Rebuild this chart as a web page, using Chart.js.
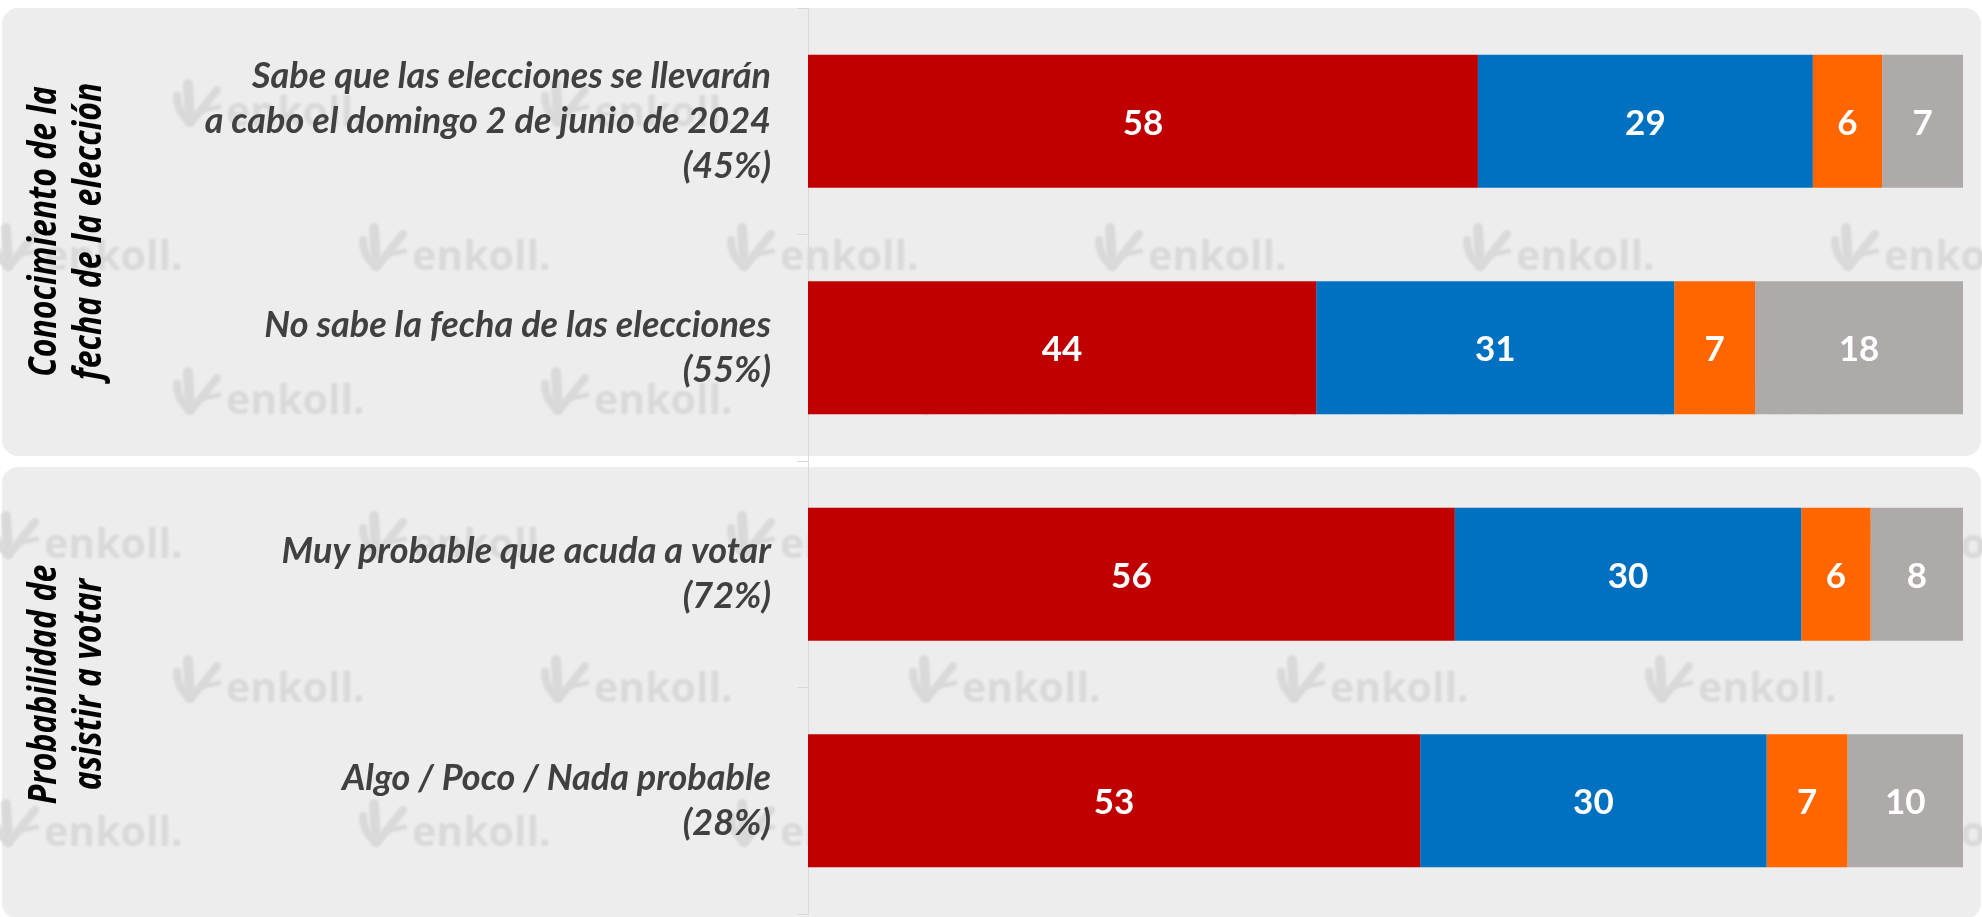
<!DOCTYPE html>
<html>
<head>
<meta charset="utf-8">
<script src="https://cdn.jsdelivr.net/npm/chart.js@4/dist/chart.umd.min.js"></script>
<style>
  html, body { margin: 0; padding: 0; background: #fff; }
  #wrap { width: 1982px; height: 917px; }
</style>
</head>
<body>
<div id="wrap"><canvas id="myChart_bar" width="1982" height="917"></canvas></div>
<script>
// categories (one array entry per line of the label)
var categories = [
  ['Sabe que las elecciones se llevarán', 'a cabo el domingo 2 de junio de 2024', '(45%)'],
  ['No sabe la fecha de las elecciones', '(55%)'],
  ['Muy probable que acuda a votar', '(72%)'],
  ['Algo / Poco / Nada probable', '(28%)']
];

// group labels shown rotated on the left, each covers two categories
var groups = [
  ['Conocimiento de la', 'fecha de la elección'],
  ['Probabilidad de', 'asistir a votar']
];

// series values (%)
var redValues = [58, 44, 56, 53];
var blueValues = [29, 31, 30, 30];
var orangeValues = [6, 7, 6, 7];
var grayValues = [7, 18, 8, 10];

var seriesColors = ['#c00000', '#0070c0', '#ff6600', '#aeaaaa'];

// panels + watermark behind everything
var backgroundPlugin = {
  id: 'panels',
  beforeDraw: function(chart) {
    var ctx = chart.ctx;
    var y = chart.scales.y;
    var step = y.getPixelForValue(1) - y.getPixelForValue(0);
    ctx.save();
    for (var g = 0; g < groups.length; g++) {
      var top = y.getPixelForValue(g * 2) - step / 2;
      var bottom = y.getPixelForValue(g * 2 + 1) + step / 2;
      if (g == 0) { bottom -= 5; } else { top += 6; bottom += 5; }
      ctx.fillStyle = '#ededed';
      ctx.beginPath();
      ctx.roundRect(2, top, 1979, bottom - top, 16);
      ctx.fill();
    }
    // watermark "enkoll."
    ctx.filter = 'blur(0.8px)';
    ctx.fillStyle = '#d9d9d9';
    ctx.strokeStyle = '#d9d9d9';
    ctx.lineCap = 'round';
    ctx.font = 'bold 41px "Open Sans"';
    ctx.textBaseline = 'alphabetic';
    ctx.textAlign = 'left';
    for (var r = 0; r < 6; r++) {
      var by = 126 + r * 144;
      var startX = (r % 2 == 0) ? 226 : 44;
      for (var k = -1; k < 7; k++) {
        var tx = startX + k * 368;
        ctx.fillText('enkoll.', tx, by);
        var lx = tx - 53;
        ctx.lineWidth = 10;
        ctx.beginPath();
        ctx.moveTo(lx + 15, by - 42);
        ctx.lineTo(lx + 17, by - 4);
        ctx.stroke();
        ctx.lineWidth = 8;
        ctx.beginPath();
        ctx.moveTo(lx + 4, by - 30);
        ctx.quadraticCurveTo(lx + 4, by - 14, lx + 17, by - 4);
        ctx.stroke();
        ctx.beginPath();
        ctx.moveTo(lx + 20, by - 6);
        ctx.lineTo(lx + 44, by - 36);
        ctx.stroke();
        ctx.lineWidth = 5;
        ctx.beginPath();
        ctx.moveTo(lx + 30, by - 16);
        ctx.lineTo(lx + 46, by - 19);
        ctx.stroke();
      }
    }
    ctx.restore();
  }
};

// rotated group labels + values inside the bars
var labelsPlugin = {
  id: 'labels',
  afterDatasetsDraw: function(chart) {
    var ctx = chart.ctx;
    ctx.save();
    ctx.fillStyle = '#ffffff';
    ctx.font = 'bold 35px Lato';
    ctx.textAlign = 'center';
    ctx.textBaseline = 'middle';
    chart.data.datasets.forEach(function(ds, i) {
      var meta = chart.getDatasetMeta(i);
      meta.data.forEach(function(bar, j) {
        var cx = (bar.x + bar.base) / 2;
        ctx.fillText(ds.data[j], cx, bar.y + 2);
      });
    });

    var y = chart.scales.y;
    ctx.fillStyle = '#000000';
    ctx.font = 'italic bold 40px "Open Sans"';
    ctx.textBaseline = 'alphabetic';
    for (var g = 0; g < groups.length; g++) {
      var cy = (y.getPixelForValue(g * 2) + y.getPixelForValue(g * 2 + 1)) / 2 - 3;
      for (var l = 0; l < groups[g].length; l++) {
        ctx.save();
        ctx.translate(56 + l * 45, cy);
        ctx.rotate(-Math.PI / 2);
        ctx.scale(0.8, 1);
        ctx.fillText(groups[g][l], 0, 0);
        ctx.restore();
      }
    }
    ctx.restore();
  }
};

var ctx = document.getElementById('myChart_bar').getContext('2d');
var myChart = new Chart(ctx, {
  type: 'bar',
  data: {
    labels: categories,
    datasets: [
      { label: 'Rojo', data: redValues, backgroundColor: seriesColors[0] },
      { label: 'Azul', data: blueValues, backgroundColor: seriesColors[1] },
      { label: 'Naranja', data: orangeValues, backgroundColor: seriesColors[2] },
      { label: 'Gris', data: grayValues, backgroundColor: seriesColors[3] }
    ]
  },
  options: {
    indexAxis: 'y',
    responsive: false,
    animation: false,
    barPercentage: 0.588,
    categoryPercentage: 1,
    layout: { padding: { left: 0, top: 8, right: 19, bottom: 3 } },
    plugins: {
      legend: { display: false },
      tooltip: { enabled: false }
    },
    scales: {
      x: { stacked: true, min: 0, max: 100, display: false },
      y: {
        stacked: true,
        afterFit: function(scale) {
          scale.width = 808;
          scale.paddingTop = 0;
          scale.paddingBottom = 0;
        },
        border: { color: '#d9d9d9', width: 1 },
        grid: { drawOnChartArea: false, drawTicks: true, tickLength: 11, color: '#d9d9d9' },
        ticks: {
          padding: 26,
          color: '#404040',
          font: { family: 'Lato', style: 'italic', weight: 'bold', size: 36, lineHeight: 1.25 }
        }
      }
    }
  },
  plugins: [backgroundPlugin, labelsPlugin]
});
</script>
</body>
</html>
